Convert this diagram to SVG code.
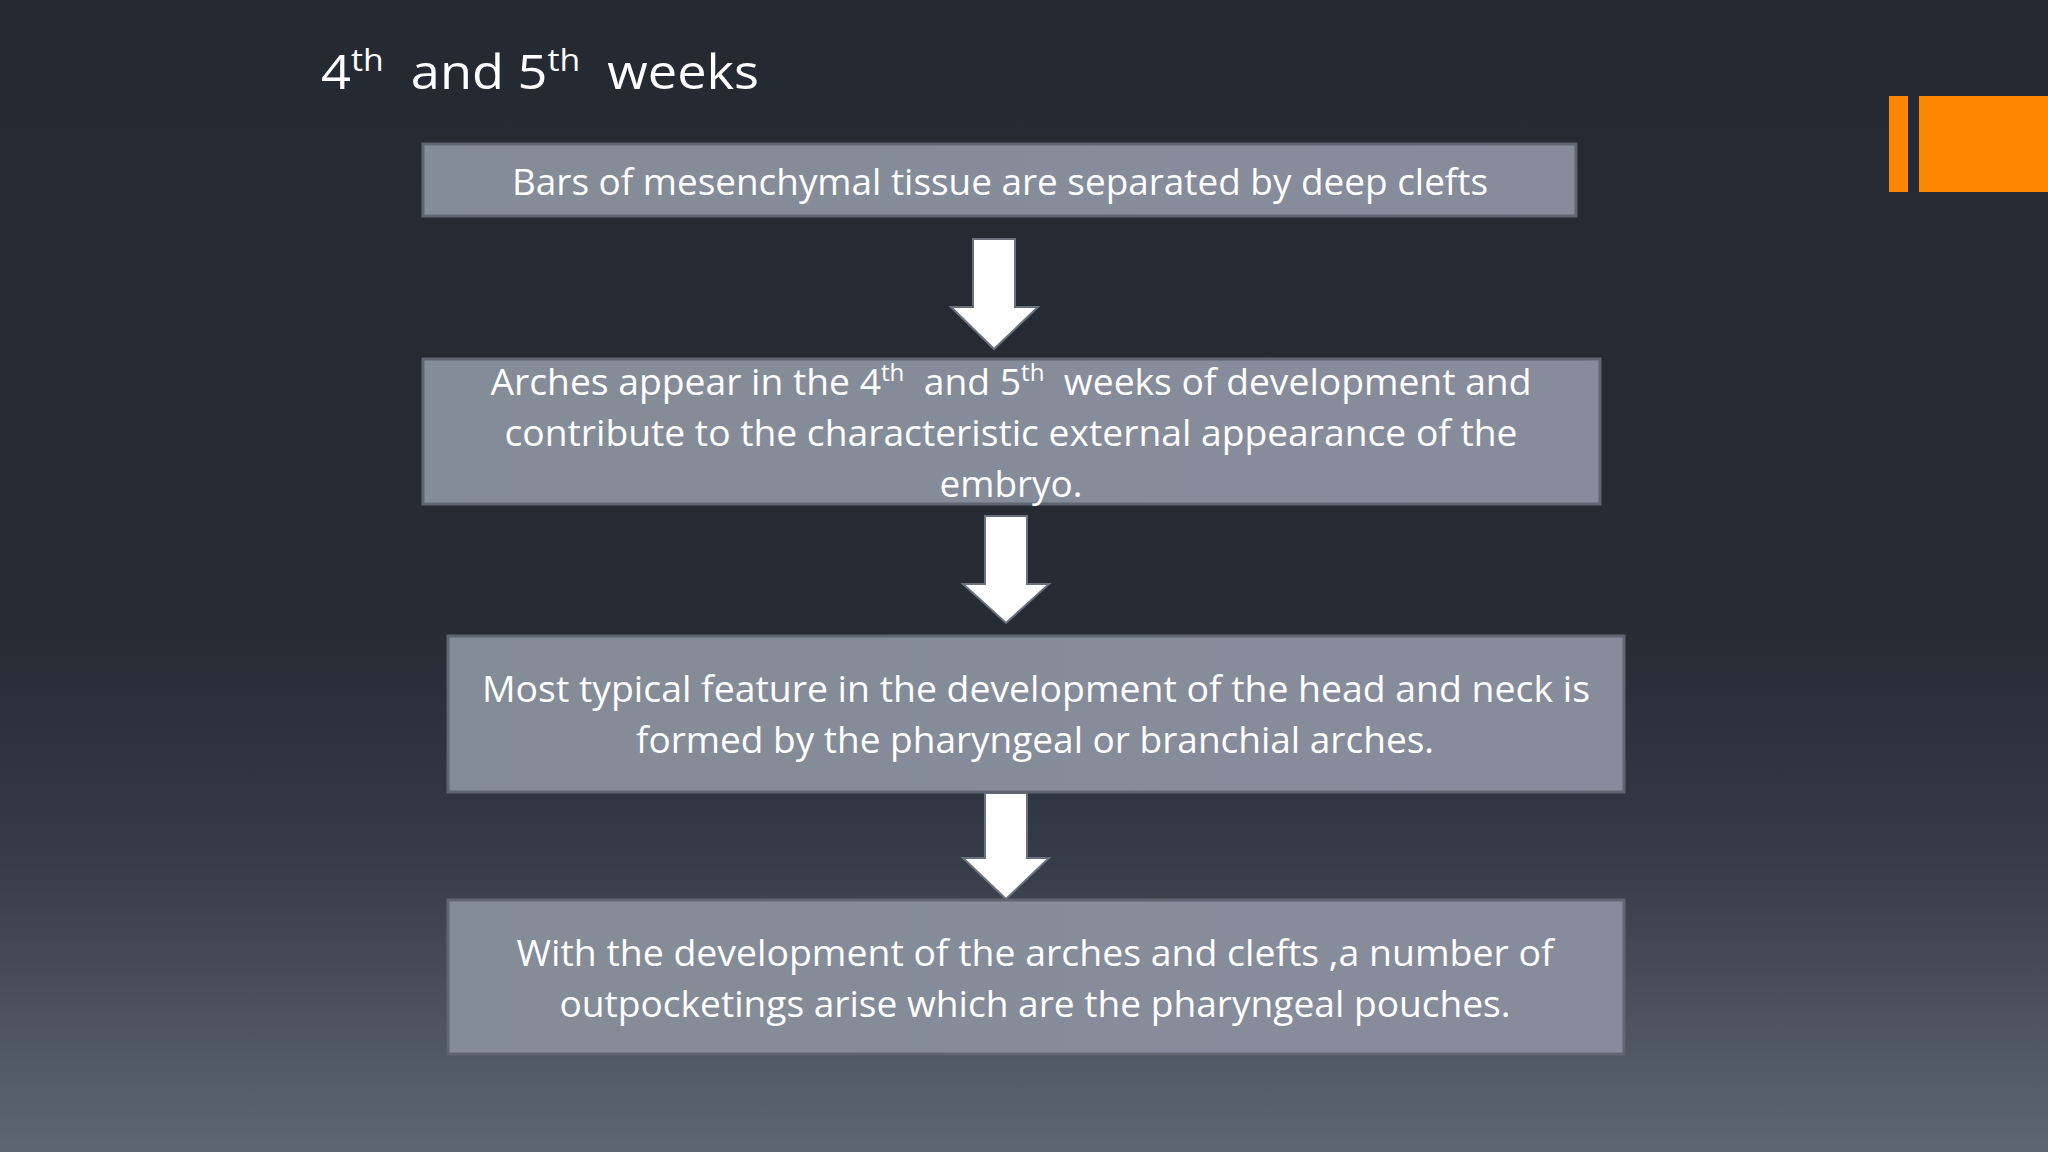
<svg xmlns="http://www.w3.org/2000/svg" width="2048" height="1152" viewBox="0 0 2048 1152">
<defs>
<linearGradient id="bg" x1="0" y1="0" x2="0" y2="1">
<stop offset="0" stop-color="#252a32"/>
<stop offset="0.55" stop-color="#262b34"/>
<stop offset="0.75" stop-color="#363c48"/>
<stop offset="1" stop-color="#5e6771"/>
</linearGradient>
<linearGradient id="boxfill" x1="0" y1="0" x2="1" y2="0">
<stop offset="0" stop-color="#848c97"/>
<stop offset="1" stop-color="#878c9c"/>
</linearGradient>
<style>
.box{fill:url(#boxfill);stroke:#5f6672;stroke-width:3}
.t{font-family:"Open Sans","Noto Sans","Liberation Sans",sans-serif;font-size:37px;fill:#ffffff;text-anchor:middle}
.title{font-family:"Open Sans","Noto Sans","Liberation Sans",sans-serif;font-size:48px;fill:#ffffff}
.arrow{fill:#ffffff;stroke:#6a717d;stroke-width:2}
</style>
</defs>
<rect width="2048" height="1152" fill="url(#bg)"/>
<g id="accent">
<rect x="1889" y="96" width="19" height="96" fill="#ff8600"/>
<rect x="1919" y="96" width="129" height="96" fill="#ff8600"/>
</g>
<g id="title">
<text class="title" x="321" y="89" textLength="438" lengthAdjust="spacingAndGlyphs">4<tspan font-size="31" dy="-18">th</tspan><tspan dy="18">&#160; and 5</tspan><tspan font-size="31" dy="-18">th</tspan><tspan dy="18">&#160; weeks</tspan></text>
</g>
<g id="connectors">
<path class="arrow" d="M973,239 H1015 V307 H1038 L994,349 L951,307 H973 Z"/>
<path class="arrow" d="M985,516 H1027 V584 H1049 L1006,623 L963,584 H985 Z"/>
<path class="arrow" d="M985,793 H1027 V858 H1049 L1006,899 L963,858 H985 Z"/>
</g>
<g id="node1">
<rect class="box" x="423" y="144" width="1153" height="72"/>
<text class="t" x="1000" y="195" textLength="976" lengthAdjust="spacingAndGlyphs">Bars of mesenchymal tissue are separated by deep clefts</text>
</g>
<g id="node2">
<rect class="box" x="423" y="359" width="1177" height="145"/>
<text class="t" x="1011" y="395" textLength="1041" lengthAdjust="spacingAndGlyphs">Arches appear in the 4<tspan font-size="24" dy="-14">th</tspan><tspan dy="14">&#160; and 5</tspan><tspan font-size="24" dy="-14">th</tspan><tspan dy="14">&#160; weeks of development and</tspan></text>
<text class="t" x="1011" y="446" textLength="1013" lengthAdjust="spacingAndGlyphs">contribute to the characteristic external appearance of the</text>
<text class="t" x="1011" y="497" textLength="143" lengthAdjust="spacingAndGlyphs">embryo.</text>
</g>
<g id="node3">
<rect class="box" x="448" y="636" width="1176" height="156"/>
<text class="t" x="1036" y="702" textLength="1108" lengthAdjust="spacingAndGlyphs">Most typical feature in the development of the head and neck is</text>
<text class="t" x="1035" y="753" textLength="798" lengthAdjust="spacingAndGlyphs">formed by the pharyngeal or branchial arches.</text>
</g>
<g id="node4">
<rect class="box" x="448" y="900" width="1176" height="154"/>
<text class="t" x="1035" y="966" textLength="1037" lengthAdjust="spacingAndGlyphs">With the development of the arches and clefts ,a number of</text>
<text class="t" x="1035" y="1017" textLength="951" lengthAdjust="spacingAndGlyphs">outpocketings arise which are the pharyngeal pouches.</text>
</g>
</svg>
